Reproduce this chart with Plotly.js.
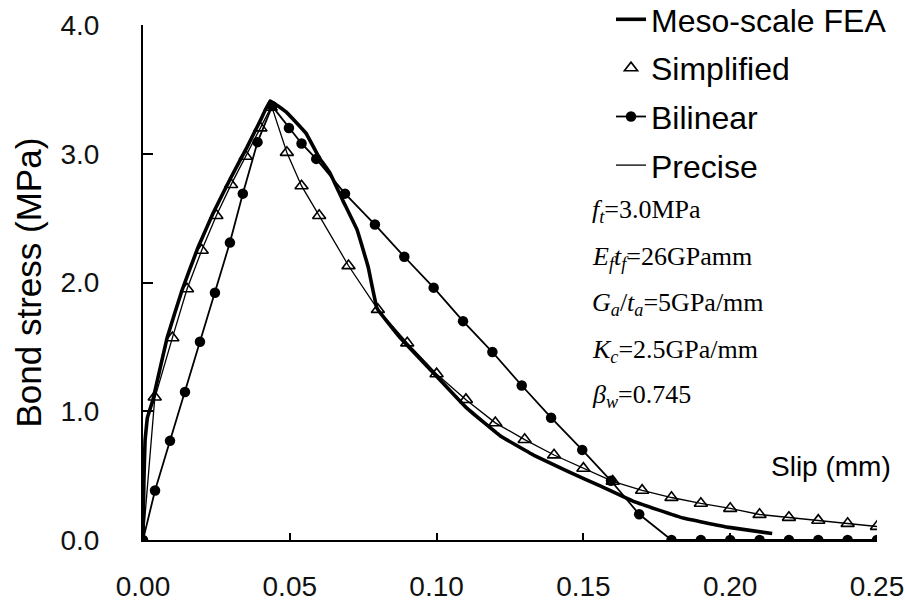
<!DOCTYPE html>
<html>
<head>
<meta charset="utf-8">
<script src="https://cdn.plot.ly/plotly-3.0.1.min.js"></script>
<style>html,body{margin:0;padding:0;background:#fff;}#chart{width:905px;height:606px;}</style>
</head>
<body>
<div id="chart"></div>
<script>
// Meso-scale FEA (thick line)
const feaSlip = [0, 0.0003, 0.0007, 0.0015, 0.0034, 0.0082, 0.0133, 0.0187, 0.0239, 0.0296, 0.0354, 0.040, 0.0433,
  0.049, 0.0555, 0.060, 0.0637, 0.068, 0.0729, 0.0767, 0.0797, 0.0876, 0.0988, 0.110, 0.1216, 0.133, 0.1445, 0.1557, 0.167, 0.184, 0.199, 0.2143];
const feaStress = [0, 0.45, 0.77, 0.95, 1.09, 1.57, 1.94, 2.27, 2.54, 2.80, 3.05, 3.26, 3.41,
  3.32, 3.16, 2.97, 2.85, 2.64, 2.41, 2.12, 1.80, 1.57, 1.30, 1.03, 0.81, 0.66, 0.535, 0.42, 0.30, 0.17, 0.10, 0.05];

// Simplified (triangles)
const simSlip = [0, 0.004, 0.010, 0.015, 0.020, 0.025, 0.030, 0.035, 0.040, 0.0435,
  0.049, 0.054, 0.060, 0.070, 0.080, 0.090, 0.100, 0.110, 0.120, 0.130, 0.140, 0.150,
  0.160, 0.170, 0.180, 0.190, 0.200, 0.210, 0.220, 0.230, 0.240, 0.250];
const simStress = [0, 1.11, 1.57, 1.95, 2.25, 2.52, 2.76, 2.98, 3.20, 3.36,
  3.01, 2.75, 2.52, 2.13, 1.79, 1.53, 1.29, 1.09, 0.91, 0.78, 0.66, 0.556,
  0.455, 0.385, 0.33, 0.284, 0.245, 0.198, 0.175, 0.152, 0.128, 0.105];

// Bilinear (filled circles)
const bilSlip = [0, 0.0041, 0.0092, 0.0143, 0.0194, 0.0245, 0.0296, 0.034, 0.039, 0.044,
  0.0497, 0.054, 0.059, 0.0688, 0.079, 0.089, 0.099, 0.109, 0.119, 0.129, 0.139, 0.1496, 0.1594, 0.169,
  0.180, 0.190, 0.200, 0.210, 0.220, 0.230, 0.240, 0.250];
const bilStress = [0, 0.385, 0.77, 1.15, 1.54, 1.92, 2.31, 2.69, 3.09, 3.37,
  3.20, 3.08, 2.96, 2.69, 2.45, 2.20, 1.96, 1.70, 1.46, 1.20, 0.95, 0.70, 0.46, 0.20,
  0, 0, 0, 0, 0, 0, 0, 0];

// Precise (thin line)
const preSlip = [0, 0.004, 0.010, 0.015, 0.020, 0.025, 0.030, 0.035, 0.040, 0.0438,
  0.049, 0.054, 0.060, 0.070, 0.080, 0.090, 0.100, 0.110, 0.120, 0.130, 0.140, 0.150,
  0.160, 0.170, 0.180, 0.190, 0.200, 0.210, 0.220, 0.230, 0.240, 0.250];
const preStress = [0, 1.10, 1.57, 1.95, 2.25, 2.52, 2.76, 2.98, 3.20, 3.37,
  3.01, 2.75, 2.52, 2.13, 1.79, 1.53, 1.29, 1.09, 0.91, 0.78, 0.66, 0.556,
  0.455, 0.385, 0.33, 0.284, 0.245, 0.198, 0.175, 0.152, 0.128, 0.105];

const seriesNames = ['Meso-scale FEA', 'Simplified', 'Bilinear', 'Precise'];
const xTicks = [0, 0.05, 0.10, 0.15, 0.20, 0.25];
const yTicks = [0, 1, 2, 3, 4];
const yTitle = 'Bond stress (MPa)';
const xTitle = 'Slip (mm)';
const paramLabels = [
  '<i>f</i><sub><i>t</i></sub>=3.0MPa',
  '<i>E</i><sub><i>f</i></sub><i>t</i><sub><i>f</i></sub>=26GPamm',
  '<i>G</i><sub><i>a</i></sub>/<i>t</i><sub><i>a</i></sub>=5GPa/mm',
  '<i>K</i><sub><i>c</i></sub>=2.5GPa/mm',
  '<i>β</i><sub><i>w</i></sub>=0.745'
];
const paramY = [2.555, 2.19, 1.83, 1.47, 1.116];

const traces = [
  {x: feaSlip, y: feaStress, name: seriesNames[0], mode: 'lines', line: {color: '#000', width: 3.6, shape: 'spline', smoothing: 0.2}, legendrank: 1, legendgroup: 'a'},
  {x: simSlip, y: simStress, name: seriesNames[1], mode: 'markers',
   marker: {symbol: 'triangle-up-open', size: 11.5, color: '#000', line: {width: 1.6, color: '#000'}}, legendrank: 2, legendgroup: 'b'},
  {x: bilSlip, y: bilStress, name: seriesNames[2], mode: 'lines+markers', line: {color: '#000', width: 1.8},
   marker: {symbol: 'circle', size: 10.5, color: '#000'}, legendrank: 3, legendgroup: 'c'},
  {x: preSlip, y: preStress, name: seriesNames[3], mode: 'lines', line: {color: '#000', width: 1.3}, legendrank: 4, legendgroup: 'd'}
];

const annotations = paramLabels.map((t, i) => ({
  x: 0.1523, y: paramY[i], xref: 'x', yref: 'y', text: t, showarrow: false,
  xanchor: 'left', yanchor: 'middle', font: {family: 'Liberation Serif, Times New Roman, serif', size: 26, color: '#000'}
}));
annotations.push({x: 0.25, y: 0.57, xref: 'x', yref: 'y', xshift: 16, text: xTitle, showarrow: false,
  xanchor: 'right', yanchor: 'middle', font: {family: 'Liberation Sans, Arial, sans-serif', size: 28, color: '#000'}});
annotations.push({x: (28 - 143) / 734, y: 0.5, xref: 'paper', yref: 'paper', text: yTitle, showarrow: false, textangle: -90,
  xanchor: 'center', yanchor: 'middle', font: {family: 'Liberation Sans, Arial, sans-serif', size: 35, color: '#000'}});

const layout = {
  width: 905, height: 606,
  margin: {l: 143, r: 28, t: 25, b: 66, autoexpand: false},
  paper_bgcolor: '#fff', plot_bgcolor: '#fff',
  font: {family: 'Liberation Sans, Arial, sans-serif', color: '#000', size: 26},
  showlegend: true,
  legend: {x: (611 - 143) / 734, xanchor: 'left', y: 1 + 33 / 515, yanchor: 'top', bgcolor: 'rgba(0,0,0,0)',
    font: {size: 32, family: 'Liberation Sans, Arial, sans-serif', color: '#000'}, tracegroupgap: 4, traceorder: 'grouped', itemwidth: 30},
  xaxis: {range: [0, 0.25], tickvals: xTicks, tickformat: '.2f', ticks: 'inside', ticklen: 7, tickwidth: 2, tickcolor: '#000',
    showline: true, linecolor: '#000', linewidth: 2, showgrid: false, zeroline: false, ticklabelstandoff: 20,
    tickfont: {size: 28, color: '#111'}},
  yaxis: {range: [0, 4], tickvals: yTicks, tickformat: '.1f', ticks: 'inside', ticklen: 10, tickwidth: 2, tickcolor: '#000',
    showline: true, linecolor: '#000', linewidth: 2, showgrid: false, zeroline: false, ticklabelstandoff: 36,
    tickfont: {size: 28, color: '#111'}},
  annotations: annotations
};

Plotly.newPlot('chart', traces, layout, {displayModeBar: false, staticPlot: true});
</script>
</body>
</html>
